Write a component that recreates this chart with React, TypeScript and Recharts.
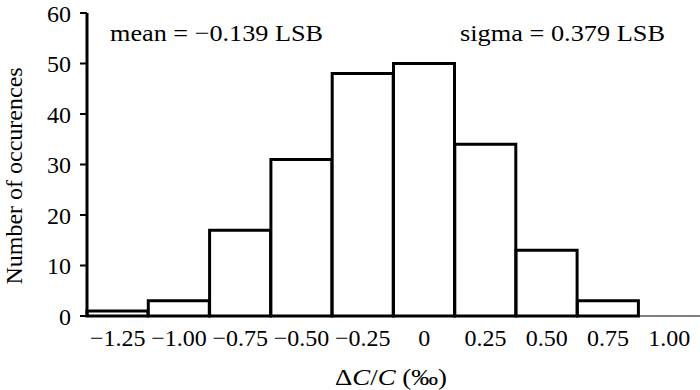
import { Bar, BarChart, Customized, XAxis, YAxis } from "recharts";

const bins = ["−1.25", "−1.00", "−0.75", "−0.50", "−0.25", "0", "0.25", "0.50", "0.75", "1.00"];
const counts: (number | null)[] = [1, 3, 17, 31, 48, 50, 34, 13, 3, null];
const yTicks = [0, 10, 20, 30, 40, 50, 60];

const data = bins.map((bin, i) => ({ bin, count: counts[i] }));

const serif = "'Liberation Serif', 'Times New Roman', serif";

function Annotations() {
  return (
    <g fontFamily={serif} fontSize={24} fill="#000">
      <text x={110} y={41} textLength={213} lengthAdjust="spacingAndGlyphs">
        mean = −0.139 LSB
      </text>
      <text x={460} y={41} textLength={205} lengthAdjust="spacingAndGlyphs">
        sigma = 0.379 LSB
      </text>
      <text x={22} y={176} textAnchor="middle" transform="rotate(-90, 22, 176)">
        Number of occurences
      </text>
      <text x={391} y={385} textAnchor="middle" textLength={112} lengthAdjust="spacingAndGlyphs">
        Δ<tspan fontStyle="italic">C</tspan>/<tspan fontStyle="italic">C</tspan> (‰)
      </text>
    </g>
  );
}

export default function App() {
  return (
    <div style={{ position: "absolute", left: 0, top: 0, background: "#fff" }}>
      <BarChart
        width={700}
        height={390}
        data={data}
        margin={{ top: 13, right: 0, left: 0, bottom: 0 }}
        barCategoryGap={0}
      >
        <XAxis
          dataKey="bin"
          interval={0}
          height={74}
          tickLine={false}
          tickSize={0}
          tickMargin={13}
          axisLine={{ stroke: "#000", strokeWidth: 1 }}
          tick={{ fill: "#000", fontSize: 24, fontFamily: serif }}
        />
        <YAxis
          width={87}
          domain={[0, 60]}
          ticks={yTicks}
          interval={0}
          tickSize={7}
          tickMargin={9}
          axisLine={{ stroke: "#000", strokeWidth: 3 }}
          tickLine={{ stroke: "#000", strokeWidth: 2 }}
          tick={{ fill: "#000", fontSize: 24, fontFamily: serif }}
        />
        <Bar dataKey="count" fill="#fff" stroke="#000" strokeWidth={3} isAnimationActive={false} />
        <Customized component={Annotations} />
      </BarChart>
    </div>
  );
}
